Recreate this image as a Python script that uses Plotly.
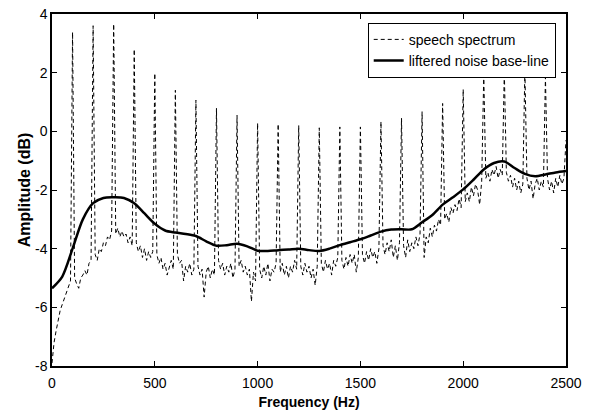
import plotly.graph_objects as go

# Speech spectrum sampled every 10 Hz (0..2500 Hz); first value of each 100 Hz row (k>=1) is the harmonic peak
spec_step_hz = 10
speech_db = [
    -7.9, -7.2, -6.8, -6.4, -6.1, -5.9, -5.7, -5.5, -5.3, -5.1,
    3.38, -5.0, -5.2, -5.35, -5.0, -4.9, -4.75, -4.9, -4.5, -4.4,
    3.6, -4.2, -4.4, -4.0, -4.1, -3.8, -3.9, -3.6, -3.7, -3.4,
    3.66, -3.5, -3.3, -3.6, -3.4, -3.6, -3.5, -3.8, -3.6, -3.9,
    2.8, -3.8, -4.1, -3.9, -4.3, -4.0, -4.4, -4.1, -4.3, -4.1,
    1.98, -4.2, -4.5, -4.3, -4.7, -4.5, -4.9, -4.6, -4.4, -4.7,
    1.4, -4.2, -4.5, -4.4, -5.1, -4.6, -4.8, -4.5, -4.9, -4.7,
    1.06, -4.6, -4.9, -4.7, -5.65, -4.8, -4.6, -5.0, -4.7, -4.9,
    0.79, -4.4, -4.7, -4.5, -4.9, -4.6, -4.8, -4.5, -5.0, -4.7,
    0.55, -4.6, -4.4, -4.8, -4.6, -4.9, -4.7, -5.8, -4.8, -5.1,
    0.28, -4.7, -5.0, -4.6, -4.9, -4.5, -5.1, -4.7, -4.8, -4.5,
    0.25, -4.8, -4.5, -4.9, -4.6, -5.0, -4.6, -4.8, -4.4, -4.7,
    0.2, -4.6, -4.9, -4.5, -4.8, -4.6, -5.0, -4.7, -5.25, -4.6,
    0.12, -4.5, -4.8, -4.4, -4.7, -4.5, -4.9, -4.4, -4.6, -4.3,
    0.15, -4.4, -4.7, -4.3, -4.6, -4.2, -4.5, -4.2, -4.8, -4.3,
    0.15, -4.2, -4.5, -4.1, -4.4, -4.0, -4.3, -4.1, -4.5, -4.0,
    0.33, -3.9, -4.2, -3.8, -4.1, -3.7, -4.3, -3.9, -4.4, -3.8,
    0.45, -3.9, -4.3, -3.7, -4.1, -3.8, -4.0, -3.6, -3.9, -3.5,
    0.67, -4.3, -3.6, -3.8, -3.3, -3.6, -3.2, -3.4, -3.0, -3.2,
    0.95, -3.0, -2.8, -3.1, -2.6, -2.8, -2.5, -2.7, -2.3, -2.6,
    1.43, -2.4, -2.1, -2.4, -1.9, -2.2, -1.8, -2.0, -2.5, -1.7,
    1.92, -1.6, -1.4, -1.7, -1.3, -1.5, -1.2, -1.6, -1.3, -1.5,
    2.03, -1.4, -1.7, -1.5, -1.9, -1.6, -2.0, -1.7, -2.1, -1.8,
    2.1, -1.6, -2.0, -1.7, -2.3, -1.8, -1.6, -2.0, -1.7, -1.9,
    1.85, -1.6, -2.0, -1.7, -2.1, -1.6, -1.9, -1.5, -1.8, -1.6,
    -0.3,
]
speech_hz = [i * spec_step_hz for i in range(len(speech_db))]

# Liftered noise base-line sampled every 50 Hz
base_step_hz = 50
baseline_db = [
    -5.35, -4.95, -4.0, -3.0, -2.45, -2.27, -2.25, -2.27, -2.45, -2.8,
    -3.15, -3.38, -3.45, -3.5, -3.57, -3.75, -3.9, -3.88, -3.83, -3.92,
    -4.07, -4.08, -4.05, -4.03, -4.0, -4.05, -4.08, -4.0, -3.88, -3.78,
    -3.68, -3.55, -3.42, -3.35, -3.34, -3.34, -3.1, -2.85, -2.5, -2.25,
    -1.98, -1.65, -1.3, -1.08, -1.03, -1.25, -1.45, -1.53, -1.47, -1.4,
    -1.35,
]
baseline_hz = [i * base_step_hz for i in range(len(baseline_db))]

x_ticks = [0, 500, 1000, 1500, 2000, 2500]
y_ticks = [-8, -6, -4, -2, 0, 2, 4]

FONT = "Liberation Sans, Arial, sans-serif"

fig = go.Figure()
fig.add_trace(go.Scatter(
    x=speech_hz, y=speech_db, mode="lines", name="speech spectrum",
    line=dict(color="black", width=1, dash="4px,3px"),
))
fig.add_trace(go.Scatter(
    x=baseline_hz, y=baseline_db, mode="lines", name="liftered noise base-line",
    line=dict(color="black", width=2.5, shape="spline", smoothing=0.8),
))

axis_common = dict(
    showgrid=False, zeroline=False, showline=True, linecolor="black", linewidth=1.5,
    mirror="ticks", ticks="inside", ticklen=5, tickwidth=1.2, tickcolor="black",
    tickfont=dict(family=FONT, size=14, color="black"), automargin=False,
)
fig.update_xaxes(range=[0, 2500], tickvals=x_ticks, ticktext=[str(v) for v in x_ticks],
                 ticklabelstandoff=3,
                 title=dict(text="<b>Frequency (Hz)</b>", standoff=8,
                            font=dict(family=FONT, size=14, color="black")),
                 **axis_common)
fig.update_yaxes(range=[-8, 4], tickvals=y_ticks, ticktext=[str(v) for v in y_ticks],
                 title=dict(text="<b>Amplitude (dB)</b>", standoff=0,
                            font=dict(family=FONT, size=16, color="black")),
                 **axis_common)

fig.update_layout(
    width=591, height=412,
    margin=dict(l=52, r=25, t=14, b=46, autoexpand=False),
    paper_bgcolor="white", plot_bgcolor="white",
    legend=dict(x=0.98, y=0.975, xanchor="right", yanchor="top",
                bgcolor="white", bordercolor="black", borderwidth=1,
                itemwidth=30, tracegroupgap=0,
                font=dict(family=FONT, size=14, color="black")),
    showlegend=True,
)

fig.write_html("out.html", config={"displayModeBar": False},
               post_script="document.body.style.margin='0';")
